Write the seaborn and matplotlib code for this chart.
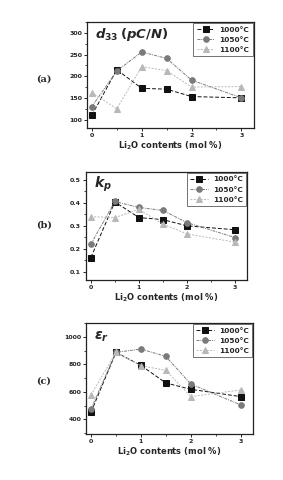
import matplotlib
matplotlib.use("Agg")
import matplotlib.pyplot as plt
import seaborn as sns
import pandas as pd
from matplotlib.ticker import MultipleLocator

sns.set_style("ticks")
plt.rcParams['font.family'] = ['DejaVu Sans']
plt.rcParams['mathtext.fontset'] = 'custom'
plt.rcParams['mathtext.it'] = 'DejaVu Sans:italic:bold'
plt.rcParams['mathtext.rm'] = 'DejaVu Sans:bold'
plt.rcParams['mathtext.bf'] = 'DejaVu Sans:bold'

li2o = [0, 0.5, 1, 1.5, 2, 3]
temps = ["1000°C", "1050°C", "1100°C"]

d33_1000 = [110, 215, 172, 170, 153, 150]
d33_1050 = [130, 212, 256, 241, 191, 150]
d33_1100 = [162, 125, 222, 213, 175, 176]

kp_1000 = [0.162, 0.404, 0.336, 0.327, 0.300, 0.283]
kp_1050 = [0.220, 0.406, 0.380, 0.367, 0.314, 0.249]
kp_1100 = [0.340, 0.336, 0.372, 0.307, 0.265, 0.229]

er_1000 = [453, 887, 793, 665, 619, 566]
er_1050 = [477, 887, 911, 858, 658, 506]
er_1100 = [578, 887, 790, 757, 566, 614]

colors = ["#111111", "#7a7a7a", "#b8b8b8"]
markers = ["s", "o", "^"]
styles = [(0, (4, 2)), (0, (3, 1, 1, 1)), (0, (2, 1.5))]

panels = [
    dict(series=[d33_1000, d33_1050, d33_1100], ylim=(80, 325), yticks=[100, 150, 200, 250, 300],
         yminor=25, fmt="{:.0f}", title=r"$d_{33}\,(pC/N)$", tsize=9.5,
         rect=[0.307, 0.733, 0.590, 0.221], label="(a)", lab_y=79),
    dict(series=[kp_1000, kp_1050, kp_1100], ylim=(0.065, 0.535), yticks=[0.1, 0.2, 0.3, 0.4, 0.5],
         yminor=0.05, fmt="{:.1f}", title=r"$k_p$", tsize=10,
         rect=[0.304, 0.417, 0.569, 0.225], label="(b)", lab_y=225),
    dict(series=[er_1000, er_1050, er_1100], ylim=(295, 1100), yticks=[400, 600, 800, 1000],
         yminor=100, fmt="{:.0f}", title=r"$\varepsilon_r$", tsize=10,
         rect=[0.304, 0.096, 0.590, 0.231], label="(c)", lab_y=381),
]

W, H = 283, 480
fig = plt.figure(figsize=(W / 100, H / 100), dpi=100)

for p in panels:
    ax = fig.add_axes(p["rect"])
    for vals, t, c, m, ls in zip(p["series"], temps, colors, markers, styles):
        df = pd.DataFrame({"x": li2o, "y": vals})
        sns.lineplot(data=df, x="x", y="y", ax=ax, color=c, marker=m, markersize=4,
                     markeredgecolor=c, linewidth=0.7, linestyle=ls, label=t)
    ax.set_xlim(-0.1, 3.25)
    ax.set_ylim(*p["ylim"])
    ax.set_xticks([0, 1, 2, 3])
    ax.set_xticklabels(["0", "1", "2", "3"])
    ax.xaxis.set_minor_locator(MultipleLocator(0.5))
    ax.set_yticks(p["yticks"])
    ax.set_yticklabels([p["fmt"].format(v) for v in p["yticks"]])
    ax.yaxis.set_minor_locator(MultipleLocator(p["yminor"]))
    ax.tick_params(axis="both", which="major", labelsize=4.5, length=2, width=0.7, pad=1.5)
    ax.tick_params(axis="both", which="minor", length=1.2, width=0.6)
    for lbl in ax.get_xticklabels() + ax.get_yticklabels():
        lbl.set_fontweight("bold")
    for s in ax.spines.values():
        s.set_linewidth(0.9)
        s.set_color("#222222")
    ax.set_xlabel(r"Li$_2$O contents (mol %)", fontsize=6, fontweight="bold", labelpad=1)
    ax.set_ylabel("")
    ax.text(0.05, 0.88, p["title"], transform=ax.transAxes, fontsize=p["tsize"],
            ha="left", va="center")
    leg = ax.legend(loc="upper right", fontsize=5.3, frameon=True, fancybox=False,
                    borderpad=0.45, handlelength=2.4, labelspacing=0.55, borderaxespad=0.15,
                    handletextpad=0.7)
    leg.get_frame().set_edgecolor("#333333")
    leg.get_frame().set_linewidth(0.6)
    for t in leg.get_texts():
        t.set_fontweight("bold")
    fig.text(44 / W, 1 - p["lab_y"] / H, p["label"], fontsize=7, fontweight="bold",
             family="DejaVu Serif", ha="center", va="center")

fig.savefig("out.png", dpi=100, facecolor="white")
